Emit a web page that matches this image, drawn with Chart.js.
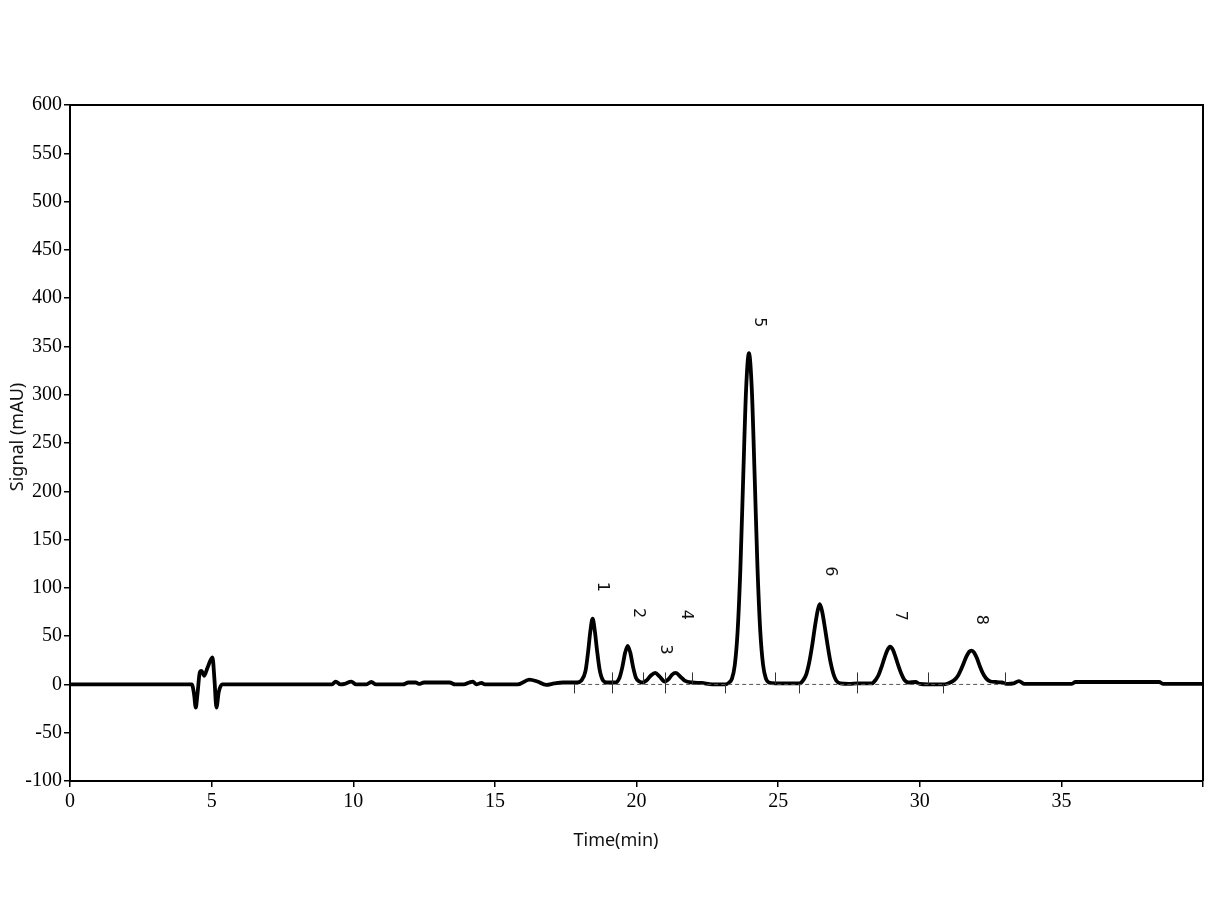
<!DOCTYPE html>
<html>
<head>
<meta charset="utf-8">
<title>Chromatogram</title>
<script src="https://cdn.jsdelivr.net/npm/chart.js@4/dist/chart.umd.min.js"></script>
<style>
  body { margin: 0; background: #fff; }
  #chromChart { display: block; }
</style>
</head>
<body>
<canvas id="chromChart" width="1221" height="916"></canvas>
<script>
// Trace: retention time (min) and signal (mAU)
const traceTimes = [
  0, 4.3, 4.38, 4.44, 4.5, 4.58, 4.64, 4.74, 4.85, 5.03, 5.1, 5.17, 5.25, 5.38,
  9.25, 9.38, 9.55, 9.7, 9.93, 10.1, 10.45, 10.64, 10.8,
  11.75, 11.95, 12.2, 12.32, 12.5, 13.0, 13.4, 13.6, 13.9, 14.1, 14.22, 14.35, 14.45, 14.52, 14.65,
  15.8, 16.22, 16.5, 16.81, 17.1, 17.4, 17.9,
  18.05, 18.2, 18.3, 18.37, 18.45, 18.53, 18.6, 18.7, 18.82, 18.95,
  19.25, 19.4, 19.5, 19.6, 19.69, 19.78, 19.88, 19.98, 20.1,
  20.22, 20.35, 20.5, 20.66, 20.82, 21.0,
  21.15, 21.25, 21.39, 21.55, 21.7, 21.97, 22.3, 22.67, 23.15,
  23.27, 23.37, 23.47, 23.57, 23.67, 23.77, 23.87, 23.97, 24.07, 24.17, 24.27, 24.37, 24.47, 24.57, 24.67,
  24.9, 25.75, 25.9, 26.0, 26.1, 26.2, 26.3, 26.4, 26.47, 26.55, 26.65, 26.75, 26.85, 26.95, 27.05, 27.2, 27.5, 27.8,
  28.3, 28.45, 28.55, 28.65, 28.75, 28.85, 28.95, 29.05, 29.15, 29.25, 29.35, 29.45, 29.6, 29.85, 30.0, 30.3, 30.8,
  31.0, 31.2, 31.35, 31.45, 31.55, 31.65, 31.75, 31.83, 31.92, 32.02, 32.12, 32.22, 32.35, 32.5, 32.7, 32.9,
  33.1, 33.3, 33.5, 33.7, 35.35, 35.5, 38.45, 38.6, 40
];
const traceSignal = [
  0, 0, -10, -24, -10, 12, 14, 9, 17, 28, 5, -24, -8, 0,
  0, 3, 0, 0.5, 3, 0, 0, 2.5, 0,
  0, 2, 2, 0.5, 2, 2, 2, 0, 0, 2, 3, 0, 1, 1.5, 0,
  0, 5, 3, -0.5, 1, 2, 2,
  4, 14, 36, 55, 68, 55, 37, 15, 4, 2,
  2, 7, 18, 33, 40, 33, 18, 7, 3,
  2, 4, 9, 12, 8, 3,
  6, 10, 12, 8, 4, 2, 1.5, 0, 0,
  2, 6, 20, 55, 122, 217, 306, 343, 306, 217, 122, 55, 20, 6, 2,
  1, 1, 5, 11, 23, 40, 60, 77, 83, 76, 59, 40, 23, 11, 4, 1, 0.5, 1,
  1, 5, 10, 18, 27, 35, 39, 36, 28, 19, 11, 5, 2, 2.5, 0.5, 0, 0,
  1, 4, 9, 15, 22, 29, 34, 35, 33, 27, 19, 12, 6, 3, 2.5, 2,
  0.5, 1, 3.5, 0.5, 0.5, 2.5, 2.5, 0.5, 0.5
];

// Integration baseline and peak start/stop markers
const baselineRange = [17.8, 33.0];
const markerTimes = [17.8, 19.12, 20.22, 21.02, 21.96, 23.13, 24.89, 25.72, 27.77, 30.29, 30.83, 33.0];
const markerKinds = ['down', 'both', 'up', 'both', 'up', 'down', 'up', 'down', 'both', 'up', 'down', 'up'];

// Peak numbers, their retention times and the signal level where each label sits
const peakNames = ['1', '2', '3', '4', '5', '6', '7', '8'];
const peakTimes = [18.45, 19.69, 20.66, 21.39, 23.97, 26.47, 28.95, 31.83];
const peakLabelLevels = [101, 74, 36, 72, 375, 117, 71, 67];

// Axis ticks
const xTicks = [0, 5, 10, 15, 20, 25, 30, 35, 40];
const yTicks = [-100, -50, 0, 50, 100, 150, 200, 250, 300, 350, 400, 450, 500, 550, 600];

const tickFont = { family: '"Liberation Serif", "Times New Roman", serif', size: 20 };

// Draws frame, baseline markers, peak numbers and axis titles on top of the chart
const decorPlugin = {
  id: 'decor',
  afterDatasetsDraw(chart) {
    const { ctx, chartArea, scales } = chart;
    const xs = scales.x, ys = scales.y;
    const y0 = ys.getPixelForValue(0);

    ctx.save();
    // integration markers
    ctx.strokeStyle = '#333';
    ctx.lineWidth = 1;
    markerTimes.forEach((t, i) => {
      const px = Math.round(xs.getPixelForValue(t)) + 0.5;
      const kind = markerKinds[i];
      const top = (kind === 'down') ? y0 : y0 - 12;
      const bottom = (kind === 'up') ? y0 : y0 + 9;
      ctx.beginPath();
      ctx.moveTo(px, top);
      ctx.lineTo(px, bottom);
      ctx.stroke();
    });

    // peak numbers, rotated a quarter turn clockwise
    ctx.fillStyle = '#111';
    ctx.font = '16px "DejaVu Sans", sans-serif';
    ctx.textAlign = 'center';
    ctx.textBaseline = 'middle';
    peakNames.forEach((name, i) => {
      const px = xs.getPixelForValue(peakTimes[i]) + 10;
      const py = ys.getPixelForValue(peakLabelLevels[i]);
      ctx.save();
      ctx.translate(px, py);
      ctx.rotate(Math.PI / 2);
      ctx.fillText(name, 0, 0);
      ctx.restore();
    });

    // top and right frame
    ctx.strokeStyle = '#000';
    ctx.lineWidth = 2;
    ctx.beginPath();
    ctx.moveTo(chartArea.left, chartArea.top);
    ctx.lineTo(chartArea.right, chartArea.top);
    ctx.lineTo(chartArea.right, chartArea.bottom);
    ctx.stroke();

    // axis titles
    ctx.fillStyle = '#111';
    ctx.font = '18px "Noto Sans", sans-serif';
    ctx.textAlign = 'center';
    ctx.textBaseline = 'middle';
    ctx.fillText('Time(min)', 616, 841);
    ctx.save();
    ctx.translate(18, 437);
    ctx.rotate(-Math.PI / 2);
    ctx.fillText('Signal (mAU)', 0, 0);
    ctx.restore();
    ctx.restore();
  }
};

const ctx = document.getElementById('chromChart').getContext('2d');

new Chart(ctx, {
  type: 'line',
  data: {
    datasets: [
      {
        label: 'baseline',
        data: baselineRange.map(t => ({ x: t, y: 0 })),
        borderColor: '#555',
        borderWidth: 1,
        borderDash: [4, 3],
        pointRadius: 0
      },
      {
        label: 'signal',
        data: traceTimes.map((t, i) => ({ x: t, y: traceSignal[i] })),
        borderColor: '#000',
        borderWidth: 3.8,
        pointRadius: 0,
        cubicInterpolationMode: 'monotone',
        fill: false
      }
    ]
  },
  options: {
    responsive: false,
    devicePixelRatio: 1,
    animation: false,
    layout: { padding: { top: 105, right: 18, left: 0, bottom: 0 } },
    plugins: {
      legend: { display: false },
      tooltip: { enabled: false }
    },
    scales: {
      x: {
        type: 'linear',
        min: 0,
        max: 40,
        afterFit: scale => { scale.height = 135; },
        afterBuildTicks: scale => { scale.ticks = xTicks.map(v => ({ value: v })); },
        ticks: {
          color: '#000',
          font: tickFont,
          padding: 3,
          maxRotation: 0,
          callback: v => (v === 40 ? '' : v)
        },
        grid: { drawOnChartArea: false, drawTicks: true, tickLength: 6, color: '#000', lineWidth: 1.5 },
        border: { display: true, color: '#000', width: 2 }
      },
      y: {
        min: -100,
        max: 600,
        afterFit: scale => { scale.width = 70; },
        afterBuildTicks: scale => { scale.ticks = yTicks.map(v => ({ value: v })); },
        ticks: { color: '#000', font: tickFont, padding: 2 },
        grid: { drawOnChartArea: false, drawTicks: true, tickLength: 6, color: '#000', lineWidth: 1.5 },
        border: { display: true, color: '#000', width: 2 }
      }
    }
  },
  plugins: [decorPlugin]
});
</script>
</body>
</html>
